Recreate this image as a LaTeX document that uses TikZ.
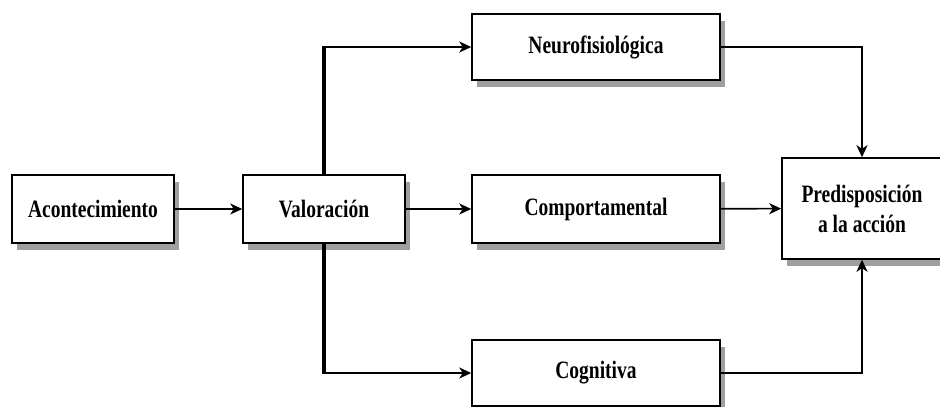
\documentclass[tikz,border=0pt]{standalone}
\usepackage{fontspec}
\newfontfamily\boxfont[FakeStretch=0.78]{Liberation Serif}
\usetikzlibrary{arrows.meta}
\begin{document}
\begin{tikzpicture}[x=1pt, y=-1pt, >={Stealth[length=12pt,width=11pt,inset=3.5pt]},
  stage/.style={draw, line width=1.5pt, fill=white, inner sep=0pt,
    font=\boxfont\bfseries\fontsize{25}{28}\selectfont, align=center,
    preaction={fill=gray!75, transform canvas={xshift=5pt, yshift=-7pt}}},
  flow/.style={line width=1.6pt, ->},
  trunk/.style={line width=4pt}]
\clip (0,0) rectangle (940,407);
\fill[white] (0,0) rectangle (940,407);
% boxes
\node[stage, minimum width=162pt, minimum height=68pt] (acont) at (93,209) {Acontecimiento};
\node[stage, minimum width=162pt, minimum height=68pt] (valor) at (324,209) {Valoración};
\node[stage, minimum width=248pt, minimum height=66pt] (neuro) at (596,47) {Neurofisiológica};
\node[stage, minimum width=248pt, minimum height=68pt] (comp) at (596,209) {Comportamental};
\node[stage, minimum width=248pt, minimum height=66pt] (cogn) at (596,373) {Cognitiva};
\node[stage, minimum width=160pt, minimum height=101pt] (pred) at (862,208.5) {Predisposición\\[2pt]a la acción};
% connectors
\draw[flow] (acont) -- (valor);
\draw[flow] (valor) -- (comp);
\draw[trunk] (valor.north) -- (valor.north |- neuro.west);
\draw[flow] ([xshift=-2pt]valor.north |- neuro.west) -- (neuro.west);
\draw[trunk] (valor.south) -- (valor.south |- cogn.west);
\draw[flow] ([xshift=-2pt]valor.south |- cogn.west) -- (cogn.west);
\draw[flow, line width=2.2pt] (neuro.east) -| (pred.north);
\draw[flow] (comp) -- (pred);
\draw[flow, line width=2.2pt] (cogn.east) -| (pred.south);
\end{tikzpicture}
\end{document}
